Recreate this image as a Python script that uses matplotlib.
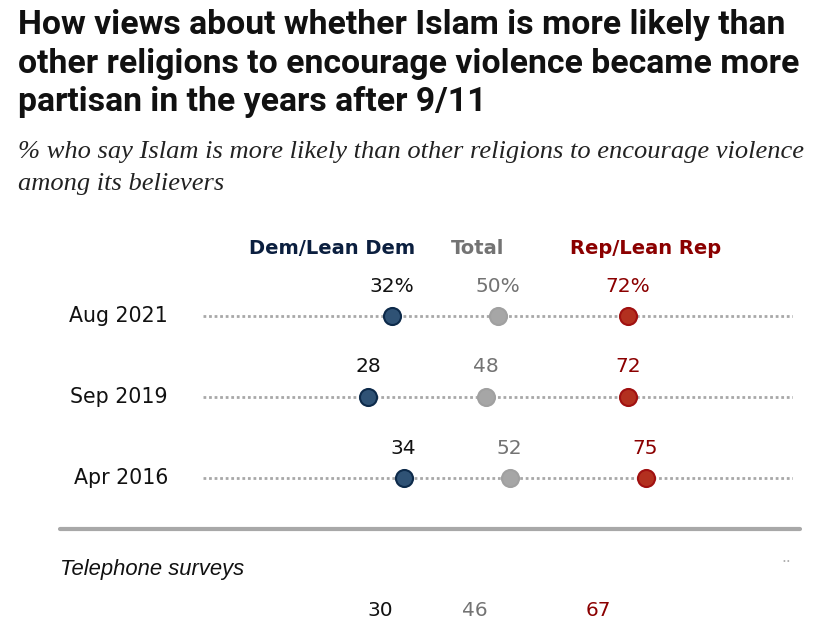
import matplotlib.pyplot as plt

# data
surveys = ['Aug 2021', 'Sep 2019', 'Apr 2016']
dem = [32, 28, 34]
total = [50, 48, 52]
rep = [72, 72, 75]
phone_dem = 30
phone_total = 46
phone_rep = 67

navy = '#0b1f3f'
gray_txt = '#737373'
red_txt = '#8b0000'
body = ['DejaVu Sans']

fig = plt.figure(figsize=(8.35, 6.3), dpi=100)
renderer = fig.canvas.get_renderer()


def fit_width(txt, target_px):
    w = txt.get_window_extent(renderer=renderer).width
    txt.set_fontsize(txt.get_fontsize() * target_px / w)


title = fig.text(18 / 835, 1 - 9 / 630,
                 'How views about whether Islam is more likely than\n'
                 'other religions to encourage violence became more\n'
                 'partisan in the years after 9/11',
                 family=['Roboto', 'DejaVu Sans'], weight='bold', fontsize=20,
                 va='top', ha='left', linespacing=1.27, color='#111111')
fit_width(title, 779)
sub = fig.text(18 / 835, 1 - 141 / 630,
               '% who say Islam is more likely than other religions to encourage violence\n'
               'among its believers',
               family=['Liberation Serif', 'DejaVu Serif'], style='italic', fontsize=15,
               va='top', ha='left', linespacing=1.6, color='#222222')
fit_width(sub, 787)

ax = fig.add_axes([203 / 835, 0, 590 / 835, 1])
ax.set_xlim(0, 100)
ax.set_ylim(630, 0)
ax.axis('off')

rows_y = [316, 397, 478]
for i, label in enumerate(surveys):
    y = rows_y[i]
    ax.plot([0, 100], [y, y], ls=(0, (1, 1)), color='#a8a8a8', lw=2, zorder=1)
    ax.scatter([dem[i]], [y], s=150, color='#2f5275', edgecolor='#0d2a4a', lw=1.5, zorder=3)
    ax.scatter([total[i]], [y], s=150, color='#a6a6a6', edgecolor='#a0a0a0', lw=1.5, zorder=3)
    ax.scatter([rep[i]], [y], s=150, color='#b3301f', edgecolor='#a01010', lw=1.5, zorder=3)
    suf = '%' if i == 0 else ''
    ax.text(dem[i], y - 30, f'{dem[i]}{suf}', ha='center', va='center', fontsize=14.5,
            color='#111111', family=body)
    ax.text(total[i], y - 30, f'{total[i]}{suf}', ha='center', va='center', fontsize=14.5,
            color=gray_txt, family=body)
    ax.text(rep[i], y - 30, f'{rep[i]}{suf}', ha='center', va='center', fontsize=14.5,
            color=red_txt, family=body)
    fig.text(168 / 835, 1 - y / 630, label, ha='right', va='center', fontsize=14.8,
             color='#111111', family=body)

# column headers
fig.text(332 / 835, 1 - 249 / 630, 'Dem/Lean Dem', ha='center', va='center',
         fontsize=14, weight='bold', color=navy)
fig.text(478 / 835, 1 - 249 / 630, 'Total', ha='center', va='center',
         fontsize=14, weight='bold', color=gray_txt)
fig.text(646 / 835, 1 - 249 / 630, 'Rep/Lean Rep', ha='center', va='center',
         fontsize=14, weight='bold', color=red_txt)

# separator
fig.add_artist(plt.Line2D([60 / 835, 800 / 835], [1 - 529 / 630, 1 - 529 / 630],
                          color='#a8a8a8', lw=3, solid_capstyle='round'))
fig.text(60 / 835, 1 - 570 / 630, 'Telephone surveys', ha='left', va='center',
         fontsize=15.8, style='italic', color='#111111',
         family=['Liberation Sans', 'DejaVu Sans'])
fig.text(786 / 835, 1 - 557 / 630, '..', ha='center', va='center', fontsize=11, color='#b0b0b0')

# telephone row (dots fall below the visible area)
py = 641
ax.text(phone_dem, py - 30, str(phone_dem), ha='center', va='center', fontsize=14.5,
        color='#111111', family=body)
ax.text(phone_total, py - 30, str(phone_total), ha='center', va='center', fontsize=14.5,
        color=gray_txt, family=body)
ax.text(phone_rep, py - 30, str(phone_rep), ha='center', va='center', fontsize=14.5,
        color=red_txt, family=body)

fig.savefig('out.png', dpi=100)
plt.close(fig)
